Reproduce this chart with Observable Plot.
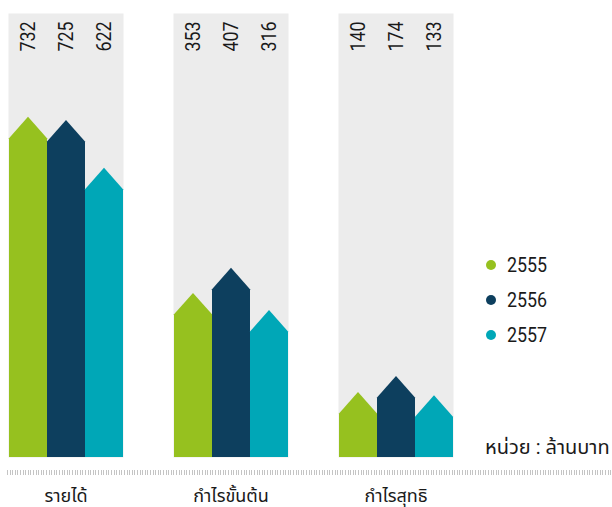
<!DOCTYPE html>
<html>
<head>
<meta charset="utf-8">
<script src="https://cdn.jsdelivr.net/npm/d3@7"></script>
<script src="https://cdn.jsdelivr.net/npm/@observablehq/plot@0.6"></script>
<style>
  html, body { margin: 0; padding: 0; background: #fff; }
  body { width: 612px; height: 507px; position: relative; overflow: hidden;
         font-family: Roboto, "Noto Sans Thai", sans-serif; color: #1a1a1a; }
  #chart { position: absolute; left: 0; top: 0; }
  .hatch { position: absolute; left: 7px; top: 470px; width: 605px; height: 5px;
           background: repeating-linear-gradient(to right, #c4c4c4 0 1px, transparent 1px 2.6px); }
  .legend { position: absolute; left: 486px; top: 247px; font-size: 21px; }
  .legend div { display: flex; align-items: center; height: 35px; }
  .legend span.dot { width: 10px; height: 10px; border-radius: 50%; margin-right: 11px; display: inline-block; }
  .legend span.lab { display: inline-block; transform: scaleX(0.85); transform-origin: left center; }
  .unit { position: absolute; left: 485px; top: 436px; font-size: 20px; line-height: 22px; white-space: nowrap; }
</style>
</head>
<body>
<div id="chart"></div>
<div class="hatch"></div>
<div class="legend" id="legend"></div>
<div class="unit">หน่วย : ล้านบาท</div>
<script>
const categories = ["รายได้", "กำไรขั้นต้น", "กำไรสุทธิ"];
const years = ["2555", "2556", "2557"];
const values2555 = [732, 353, 140];
const values2556 = [725, 407, 174];
const values2557 = [622, 316, 133];
const colors = ["#96c11f", "#0d3f5e", "#00a7b7"];

const seriesValues = [values2555, values2556, values2557];
const data = [];
categories.forEach((c, i) => {
  years.forEach((y, j) => data.push({cat: c, year: y, value: seriesValues[j][i]}));
});

function arrowRender(index, scales, values, dimensions, context, next) {
  const g = next(index, scales, values, dimensions, context);
  d3.select(g).selectAll("rect").each(function() {
    const r = d3.select(this);
    const x = +r.attr("x"), y = +r.attr("y"), w = +r.attr("width"), h = +r.attr("height");
    const a = w * 0.565;
    d3.select(this.parentNode).insert("path", () => this)
      .attr("d", `M${x},${y + h}L${x},${y + a}L${x + w / 2},${y}L${x + w},${y + a}L${x + w},${y + h}Z`)
      .attr("fill", r.attr("fill") || d3.select(this.parentNode).attr("fill"));
    r.remove();
  });
  return g;
}

function condense(k) {
  return (index, scales, values, dimensions, context, next) => {
    const g = next(index, scales, values, dimensions, context);
    d3.select(g).selectAll("text").each(function() {
      const t = this.getAttribute("transform") || "";
      this.setAttribute("transform", t + ` scale(${k},1)`);
    });
    return g;
  };
}

const font = "Roboto, 'Noto Sans Thai', sans-serif";
const chart = Plot.plot({
  width: 612,
  height: 507,
  marginLeft: 7,
  marginRight: 158,
  marginTop: 13,
  marginBottom: 50,
  style: {fontFamily: font, color: "#1a1a1a", background: "transparent", overflow: "visible"},
  fx: {domain: categories, paddingInner: 0.3, paddingOuter: 0, axis: null, label: null},
  x: {domain: years, padding: 0, axis: null},
  y: {domain: [0, 955], axis: null},
  color: {domain: years, range: colors},
  marks: [
    Plot.frame({fill: "#ececec", stroke: null}),
    Plot.barY(data, {fx: "cat", x: "year", y: "value", fill: "year", render: arrowRender}),
    Plot.text(data, {fx: "cat", x: "year", text: d => String(d.value), frameAnchor: "top",
      lineAnchor: "middle", rotate: -90, textAnchor: "end", dy: 8, fontSize: 21,
      fill: "#1a1a1a", render: condense(0.85)}),
    Plot.text(categories, {fx: d => d, text: d => d, frameAnchor: "bottom", lineAnchor: "middle",
      dy: 39, fontSize: 18, fill: "#1a1a1a"})
  ]
});
document.getElementById("chart").appendChild(chart);

const legend = document.getElementById("legend");
years.forEach((y, j) => {
  const row = document.createElement("div");
  row.innerHTML = `<span class="dot" style="background:${colors[j]}"></span><span class="lab">${y}</span>`;
  legend.appendChild(row);
});
</script>
</body>
</html>
